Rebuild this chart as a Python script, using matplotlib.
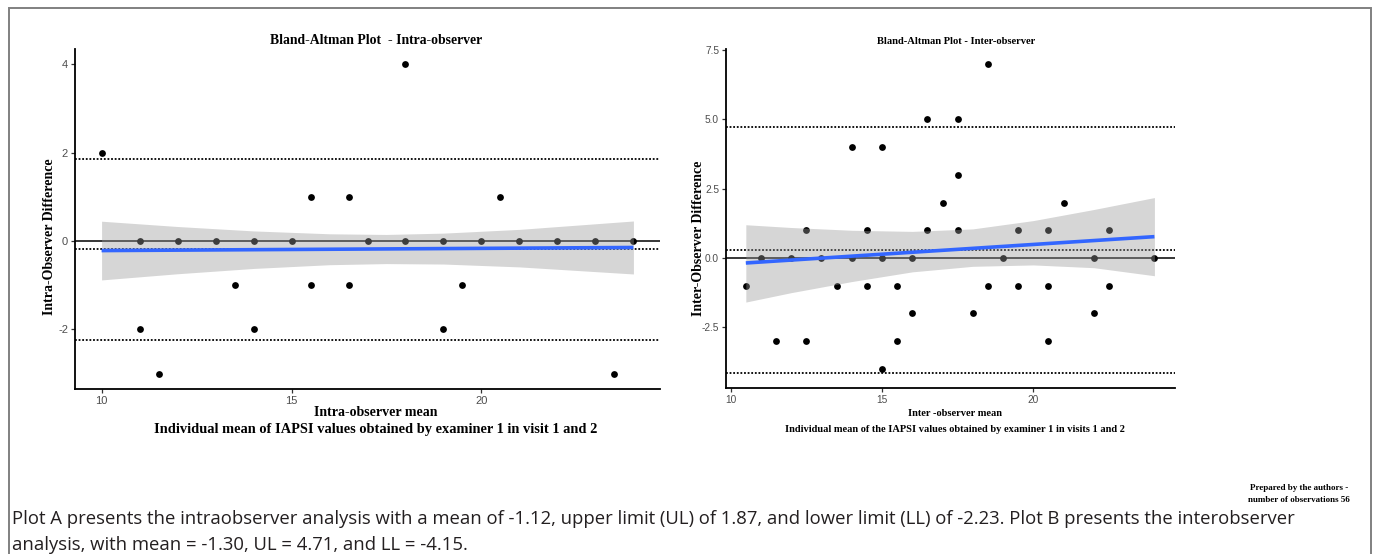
import numpy as np
import matplotlib
matplotlib.use("Agg")
import matplotlib.pyplot as plt
from matplotlib.patches import Rectangle

# ---------------- data ----------------
intra_mean = [10, 11, 11, 11.5, 12, 13, 13.5, 14, 14, 15, 15.5, 15.5, 16.5, 16.5,
              17, 18, 18, 19, 19, 19.5, 20, 20.5, 21, 22, 23, 23.5, 24]
intra_diff = [2, 0, -2, -3, 0, 0, -1, 0, -2, 0, 1, -1, 1, -1,
              0, 0, 4, 0, -2, -1, 0, 1, 0, 0, 0, -3, 0]
intra_bias = -0.18
intra_ul = 1.87
intra_ll = -2.23
intra_fit_x = [10, 24]
intra_fit_y = [-0.215, -0.145]
intra_band_x = [10, 12, 14, 16, 17.5, 19, 21, 24]
intra_band_hi = [0.45, 0.33, 0.23, 0.165, 0.15, 0.18, 0.265, 0.455]
intra_band_lo = [-0.88, -0.74, -0.62, -0.535, -0.51, -0.52, -0.585, -0.745]

inter_mean = [10.5, 11, 11.5, 12, 12.5, 12.5, 13, 13.5, 14, 14, 14.5, 14.5, 15, 15, 15,
              15.5, 15.5, 16, 16, 16.5, 16.5, 17, 17.5, 17.5, 17.5, 18, 18.5, 18.5,
              19, 19.5, 19.5, 20.5, 20.5, 20.5, 21, 22, 22, 22.5, 22.5, 24]
inter_diff = [-1, 0, -3, 0, 1, -3, 0, -1, 4, 0, 1, -1, 4, 0, -4,
              -1, -3, 0, -2, 5, 1, 2, 5, 3, 1, -2, 7, -1,
              0, 1, -1, 1, -1, -3, 2, 0, -2, 1, -1, 0]
inter_bias = 0.29
inter_ul = 4.71
inter_ll = -4.15
inter_fit_x = [10.5, 24]
inter_fit_y = [-0.18, 0.77]
inter_band_x = [10.5, 12, 14, 16, 18, 20, 22, 24]
inter_band_hi = [1.2, 1.1, 1.0, 0.96, 1.05, 1.35, 1.75, 2.18]
inter_band_lo = [-1.59, -1.25, -0.85, -0.5, -0.3, -0.25, -0.35, -0.64]

intra_xticks = [10, 15, 20]
intra_yticks = [-2, 0, 2, 4]
inter_xticks = [10, 15, 20]
inter_yticks = [-2.5, 0.0, 2.5, 5.0, 7.5]

caption = ("Plot A presents the intraobserver analysis with a mean of -1.12, upper limit (UL) of 1.87, "
           "and lower limit (LL) of -2.23. Plot B presents the interobserver\n"
           "analysis, with mean = -1.30, UL = 4.71, and LL = -4.15.")

# ---------------- figure ----------------
W, H = 1376, 554
fig = plt.figure(figsize=(W / 100, H / 100), dpi=100)
fig.patch.set_facecolor("white")

SERIF = ["Liberation Serif", "DejaVu Serif"]
SANS = ["Liberation Sans", "DejaVu Sans"]


def fx(px):
    return px / W


def fy(py):
    return 1 - py / H


def panel(rect_px, xs, ys, bias, ul, ll, fitx, fity, bx, bhi, blo,
          xlim, ylim, xticks, yticks, yfmt, tick_size):
    x0, y0, x1, y1 = rect_px
    ax = fig.add_axes([fx(x0), fy(y1), fx(x1 - x0), (y1 - y0) / H])
    ax.set_xlim(*xlim)
    ax.set_ylim(*ylim)
    for s in ["top", "right"]:
        ax.spines[s].set_visible(False)
    for s in ["left", "bottom"]:
        ax.spines[s].set_linewidth(1.3)
        ax.spines[s].set_color("black")
    ax.scatter(xs, ys, s=24, color="black", zorder=2, linewidths=0)
    ax.axhline(0, color="black", lw=1.1, zorder=1.5)
    for v in (bias, ul, ll):
        ax.axhline(v, color="black", lw=1.3, ls=(0, (1, 1)), zorder=1.5)
    ax.fill_between(bx, blo, bhi, color="#999999", alpha=0.4, lw=0, zorder=3)
    ax.plot(fitx, fity, color="#3366FF", lw=2.6, zorder=4, solid_capstyle="butt")
    ax.set_xticks(xticks)
    ax.set_yticks(yticks)
    ax.set_yticklabels([yfmt.format(v) for v in yticks])
    ax.tick_params(length=3, width=0.9, color="#333333", labelcolor="#4D4D4D",
                   labelsize=tick_size, pad=2)
    for lab in ax.get_xticklabels() + ax.get_yticklabels():
        lab.set_family(SANS)
    return ax


axL = panel((75, 49, 660, 389), intra_mean, intra_diff, intra_bias, intra_ul, intra_ll,
            intra_fit_x, intra_fit_y, intra_band_x, intra_band_hi, intra_band_lo,
            (9.3, 24.7), (-3.35, 4.35), intra_xticks, intra_yticks, "{:g}", 8)
axR = panel((726, 49, 1175, 388), inter_mean, inter_diff, inter_bias, inter_ul, inter_ll,
            inter_fit_x, inter_fit_y, inter_band_x, inter_band_hi, inter_band_lo,
            (9.845, 24.68), (-4.69, 7.54), inter_xticks, inter_yticks, "{:.1f}", 7.3)

# titles and labels
fig.text(fx(376), fy(41), "Bland-Altman Plot  - Intra-observer", ha="center", va="center",
         family=SERIF, weight="bold", size=9.9)
fig.text(fx(956), fy(41), "Bland-Altman Plot - Inter-observer", ha="center", va="center",
         family=SERIF, weight="bold", size=7.6)
fig.text(fx(50), fy(237), "Intra-Observer Difference", ha="center", va="center",
         rotation=90, family=SERIF, weight="bold", size=10)
fig.text(fx(698), fy(238), "Inter-Observer Difference", ha="center", va="center",
         rotation=90, family=SERIF, weight="bold", size=10)
fig.text(fx(376), fy(413), "Intra-observer mean", ha="center", va="center",
         family=SERIF, weight="bold", size=10)
fig.text(fx(376), fy(430), "Individual mean of IAPSI values obtained by examiner 1 in visit 1 and 2",
         ha="center", va="center", family=SERIF, weight="bold", size=10.4)
fig.text(fx(955), fy(413), "Inter -observer mean", ha="center", va="center",
         family=SERIF, weight="bold", size=7.5)
fig.text(fx(955), fy(430), "Individual mean of the IAPSI values obtained by examiner 1 in visits 1 and 2",
         ha="center", va="center", family=SERIF, weight="bold", size=7.5)
fig.text(fx(1299), fy(494), "Prepared by the authors -\nnumber of observations 56",
         ha="center", va="center", family=SERIF, weight="bold", size=6.5, linespacing=1.6)

fig.text(fx(12), fy(532), caption, ha="left", va="center", family=["Open Sans", "DejaVu Sans"],
         size=13.3, weight="normal", color="#231f20", linespacing=1.5)

# outer frame
fig.add_artist(Rectangle((fx(9), -0.02), fx(1371 - 9), fy(8) + 0.02, transform=fig.transFigure,
                         fill=False, edgecolor="#808080", lw=1.4))

fig.savefig("out.png", dpi=100, facecolor="white")
